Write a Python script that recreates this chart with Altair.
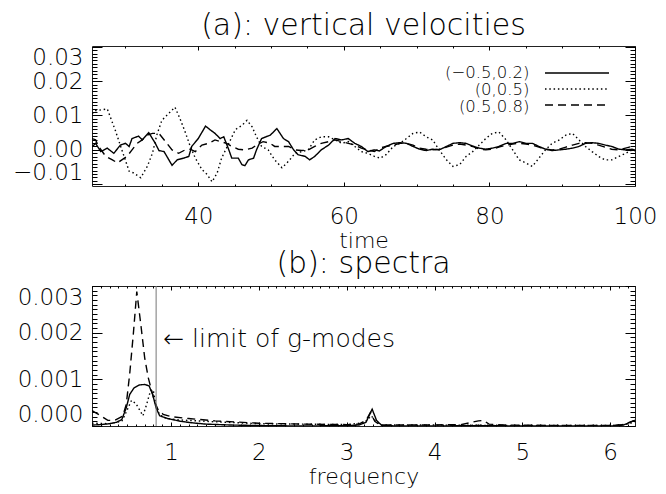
import altair as alt
import pandas as pd
import numpy as np

FONT = "DejaVu Sans"
LW = 200
series = ["(\u22120.5,0.2)", "(0,0.5)", "(0.5,0.8)"]
dashes = [[1, 0], [1.5, 2.8], [8, 5]]

# ---- panel (a): vertical velocities (values in units of 1e-3) ----
t_solid = [25.4, 25.9, 26.6, 27.5, 28.4, 29.3, 30.0, 30.5, 30.9, 31.8, 32.3, 33.2, 34.1, 34.6, 35.3,
           36.4, 37.1, 38.0, 38.7, 39.1, 40.0, 41.0, 41.6, 42.3, 43.0, 43.5, 44.2, 44.6, 45.5, 46.0,
           46.4, 46.9, 47.6, 48.0, 48.7, 49.9, 50.8, 51.7, 52.4, 53.1, 53.7, 54.7, 55.3, 56.0, 56.9,
           57.9, 58.8, 59.7, 60.6, 61.5, 62.4, 63.3, 64.2, 64.9, 65.8, 66.8, 67.7, 68.6, 69.5, 70.4,
           71.3, 72.2, 73.1, 74.1, 75.0, 75.9, 76.8, 77.7, 78.6, 79.5, 80.4, 81.3, 82.3, 83.2, 84.1,
           85.0, 85.9, 86.8, 87.7, 88.6, 89.6, 90.5, 91.4, 92.3, 93.2, 94.1, 95.0, 95.9, 96.8, 97.8,
           98.7, 99.6, 100.0]
v_solid = [0.9, 1.9, -0.5, 0.5, -1.0, 1.4, 1.9, 1.0, 3.3, 4.0, 2.9, 5.0, 1.9, -0.2, -0.5,
           -4.5, -2.9, -2.4, -1.9, 1.0, 3.3, 6.9, 5.9, 4.8, 3.3, 3.8, 0.0, -2.4, -2.4, -4.3,
           -4.6, -2.9, -2.4, 0.0, 3.3, 4.3, 6.2, 3.3, 2.4, 0.0, -1.4, -1.9, -2.9, -1.9, 0.0,
           1.4, 3.3, 2.9, 3.3, 1.9, 1.0, -0.5, 0.0, -0.3, 1.0, 1.9, 2.1, 1.9, 1.0, 0.2,
           -0.2, 0.2, 0.0, 1.0, 1.9, 2.1, 1.9, 1.1, 0.5, 0.2, 0.5, 1.0, 1.9, 1.9, 2.4,
           1.9, 1.9, 1.0, 0.2, -0.2, 0.0, 0.2, 0.5, 1.0, 1.9, 2.1, 1.9, 1.4, 1.0, 0.2,
           0.0, 0.2, 0.0]

t_dot = [25.4, 25.9, 27.5, 28.6, 29.5, 30.5, 31.1, 32.1, 33.0, 33.7, 34.3, 35.0, 35.9, 36.8, 37.5,
         38.2, 38.9, 39.6, 40.5, 41.2, 41.9, 42.6, 43.2, 44.2, 45.1, 46.0, 46.7, 47.4, 48.0, 48.7,
         49.6, 50.5, 51.5, 52.4, 53.3, 54.2, 55.1, 56.0, 56.9, 57.9, 58.8, 59.7, 60.6, 61.5, 62.4,
         63.3, 64.2, 65.0, 65.8, 66.8, 67.7, 68.6, 69.5, 70.4, 71.3, 72.2, 73.1, 74.1, 75.0, 75.9,
         76.8, 77.7, 78.6, 79.5, 80.4, 81.3, 82.3, 83.2, 84.1, 85.0, 85.9, 86.8, 87.7, 88.6, 89.6,
         90.5, 91.4, 92.3, 93.2, 94.1, 95.0, 95.9, 96.8, 97.8, 98.7, 99.6, 100.0]
v_dot = [10.5, 11.4, 11.9, 5.7, 0.0, -6.2, -6.7, -8.1, -4.8, -1.0, 4.3, 8.6, 10.5, 12.4, 9.0,
         5.2, 1.0, -2.4, -5.7, -7.1, -9.3, -6.7, -2.4, 1.9, 5.9, 7.1, 8.6, 6.7, 3.8, 1.0,
         0.0, -2.9, -5.2, -3.3, -1.0, -0.5, 0.0, 2.9, 3.8, 3.8, 2.9, 1.9, 2.4, 1.0, -0.5,
         -1.0, -1.9, -2.4, -1.4, 1.0, 1.9, 3.3, 4.8, 5.2, 3.8, 2.9, 0.0, -2.9, -4.8, -4.3,
         -1.9, -0.5, 1.4, 3.3, 4.8, 5.2, 2.9, 0.0, -2.9, -3.8, -4.8, -2.4, 0.0, 1.9, 2.9,
         4.3, 4.8, 2.9, 1.0, -0.5, -1.9, -2.9, -2.9, -1.9, -1.0, 0.0, -0.3]

t_dash = [25.4, 25.9, 26.3, 27.3, 28.2, 28.9, 29.5, 30.2, 30.9, 31.6, 32.3, 33.0, 33.7, 34.6, 35.5,
          36.4, 37.3, 38.2, 38.9, 39.6, 40.5, 41.4, 42.3, 43.0, 43.9, 44.6, 45.5, 46.4, 47.4, 48.0,
          48.9, 49.9, 50.5, 51.5, 52.4, 53.3, 54.2, 55.1, 56.0, 56.9, 57.9, 58.8, 59.7, 60.6, 61.5,
          62.4, 63.3, 64.2, 64.9, 65.8, 66.8, 67.7, 68.6, 69.5, 70.4, 71.3, 72.2, 73.1, 74.1, 75.0,
          75.9, 76.8, 77.7, 78.6, 79.5, 80.4, 81.3, 82.3, 83.2, 84.1, 85.0, 85.9, 86.8, 87.7, 88.6,
          89.6, 90.5, 91.4, 92.3, 93.2, 94.1, 95.0, 95.9, 96.8, 97.8, 98.7, 99.6, 100.0]
v_dash = [3.3, 2.9, 1.0, -1.9, -2.9, -3.8, -2.9, -1.9, 0.0, 1.9, 2.9, 4.3, 4.8, 4.8, 2.4,
          0.0, -1.0, 0.0, 0.2, -0.5, 1.4, 1.9, 2.9, 2.4, 1.9, 1.0, 0.2, 0.0, 0.5, 1.4,
          2.4, 1.9, 1.0, 1.0, 1.0, 0.0, -0.2, 0.0, 1.0, 1.9, 2.4, 2.9, 2.4, 1.9, 1.4,
          0.5, 0.0, -0.5, 0.5, 1.0, 1.4, 1.9, 1.9, 1.4, 0.5, 0.2, 0.0, 0.2, 0.8, 1.4,
          1.7, 1.4, 1.0, 0.2, 0.0, 0.2, 0.8, 1.4, 1.7, 1.9, 1.7, 1.4, 0.8, 0.2, 0.0,
          0.2, 0.8, 1.4, 1.9, 2.1, 1.9, 1.4, 0.8, 0.2, 0.0, 0.5, 1.0, 1.1]

# ---- panel (b): spectra (values in units of 1e-3) ----
f_solid = [0.10, 0.20, 0.30, 0.38, 0.44, 0.49, 0.53, 0.58, 0.64, 0.70, 0.75, 0.79, 0.83, 0.87, 0.96,
           1.11, 1.23, 1.40, 1.70, 2.00, 2.50, 3.00, 3.14, 3.22, 3.29, 3.34, 3.40, 3.60, 4.00, 4.50,
           5.00, 5.50, 6.00, 6.15, 6.28]
s_solid = [0.02, 0.03, 0.05, 0.08, 0.14, 0.39, 0.68, 0.82, 0.88, 0.89, 0.86, 0.68, 0.39, 0.22, 0.16,
           0.10, 0.07, 0.04, 0.02, 0.01, 0.00, 0.01, 0.02, 0.08, 0.36, 0.12, 0.01, 0.00, 0.00, 0.01,
           0.00, 0.00, 0.00, 0.02, 0.12]
f_dash = [0.10, 0.20, 0.28, 0.36, 0.45, 0.49, 0.53, 0.57, 0.61, 0.66, 0.70, 0.74, 0.78, 0.81, 0.85,
          0.91, 1.00, 1.20, 1.50, 2.00, 2.50, 3.00, 3.14, 3.22, 3.27, 3.32, 3.38, 3.80, 4.30, 4.40,
          4.50, 4.56, 4.62, 4.80, 5.50, 6.00, 6.15, 6.28]
s_dash = [0.33, 0.22, 0.12, 0.12, 0.21, 0.46, 1.13, 1.96, 2.88, 2.11, 1.46, 1.04, 0.75, 0.54, 0.36,
          0.25, 0.20, 0.16, 0.11, 0.06, 0.04, 0.03, 0.04, 0.12, 0.29, 0.10, 0.02, 0.02, 0.03, 0.07,
          0.11, 0.12, 0.04, 0.02, 0.01, 0.01, 0.03, 0.12]
f_dot = [0.10, 0.30, 0.44, 0.49, 0.55, 0.60, 0.64, 0.68, 0.72, 0.77, 0.80, 0.83, 0.87, 0.95, 1.10,
         1.50, 2.00, 2.50, 3.00, 3.20, 3.28, 3.34, 3.40, 4.00, 5.00, 6.00, 6.20, 6.28]
s_dot = [0.06, 0.05, 0.10, 0.30, 0.55, 0.48, 0.35, 0.22, 0.45, 0.78, 0.74, 0.42, 0.24, 0.16, 0.13,
         0.09, 0.05, 0.04, 0.03, 0.07, 0.22, 0.08, 0.02, 0.02, 0.01, 0.01, 0.04, 0.09]

gmode_limit = [0.83]
note_text = ["\u2190 limit of g-modes"]
note_f = [0.91]
note_v = [1.86]

# tick positions
xa_major = [40, 60, 80, 100]
xa_minor = [30, 35, 45, 50, 55, 65, 70, 75, 85, 90, 95]
ya_major = [-0.01, 0.0, 0.01, 0.02, 0.03]
ya_minor = [round(-0.01 + 0.001 * i, 4) for i in range(41)]
xb_major = [1, 2, 3, 4, 5, 6]
xb_minor = [round(0.1 * i, 2) for i in range(1, 63)]
yb_major = [0.0, 0.001, 0.002, 0.003]
yb_minor = [round(0.0001 * i, 5) for i in range(31)]


def long(ts, vs_list):
    rows = []
    for name, t, v in zip(series, ts, vs_list):
        for a, b in zip(t, v):
            rows.append({"x": a, "v": b / 1000.0, "s": name, "lab": name})
    return pd.DataFrame(rows)


df_a = long([t_solid, t_dot, t_dash], [v_solid, v_dot, v_dash])
df_b = long([f_solid, f_dot, f_dash], [s_solid, s_dot, s_dash])

W, H = 543, 140


def noax(orient, values, offset, size):
    return alt.Axis(orient=orient, values=values, offset=offset, tickSize=size, labels=False,
                    domain=False, grid=False, title=None, minExtent=0, maxExtent=0,
                    tickColor="black", tickWidth=1)


def panel(df, xdom, ydom, xmaj, xmin, ymaj, ymin, yfmt, xtitle, title, with_legend, xlabpad,
          xtitlepad, toff):
    xs = alt.Scale(domain=xdom, nice=False, zero=False)
    ys = alt.Scale(domain=ydom, nice=False, zero=False)
    if with_legend:
        leg_sym = alt.Legend(orient="none", legendX=452, legendY=19, title=None, symbolType="stroke",
                             symbolSize=4096, symbolStrokeWidth=1.5, symbolStrokeColor="black",
                             labelExpr="' '", labelOpacity=0, labelFontSize=16, clipHeight=16,
                             padding=0, rowPadding=0)
        leg_lab = alt.Legend(orient="none", legendX=417, legendY=19, title=None, symbolOpacity=0,
                             symbolSize=1, labelFontSize=16.5, labelFont=FONT, labelColor="black",
                             labelFontWeight=LW, labelAlign="right", clipHeight=16, padding=0,
                             rowPadding=0)
    else:
        leg_sym = None
        leg_lab = None
    dash = alt.StrokeDash("s:N", scale=alt.Scale(domain=series, range=dashes), legend=leg_sym)
    col = alt.Color("lab:N", sort=series, scale=alt.Scale(range=["black", "black", "black"]),
                    legend=leg_lab)
    main = alt.Chart(df).mark_line(strokeWidth=1.4, clip=True).encode(
        x=alt.X("x:Q", scale=xs, axis=alt.Axis(orient="bottom", values=xmaj, format="d", offset=-4,
                tickSize=4, labelPadding=xlabpad, labelFlush=False, labelOverlap=False,
                domain=False, grid=False, title=xtitle, titlePadding=xtitlepad, tickColor="black")),
        y=alt.Y("v:Q", scale=ys, axis=alt.Axis(orient="left", values=ymaj, format=yfmt, offset=-10,
                tickSize=10, labelPadding=9, labelFlush=5, labelOverlap=False, domain=False,
                grid=False, title=None, minExtent=93, tickColor="black")),
        strokeDash=dash,
        color=col,
        order=alt.Order("x:Q"),
    )
    inv = alt.Chart(df).mark_line(strokeOpacity=0, clip=True)
    l2 = inv.encode(x=alt.X("x:Q", scale=xs, axis=noax("bottom", xmin, -2, 2)),
                    y=alt.Y("v:Q", scale=ys, axis=noax("left", ymin, -5, 5)))
    l3 = inv.encode(x=alt.X("x:Q", scale=xs, axis=noax("top", xmaj, -4, 4)),
                    y=alt.Y("v:Q", scale=ys, axis=noax("right", ymaj, -10, 10)))
    l4 = inv.encode(x=alt.X("x:Q", scale=xs, axis=noax("top", xmin, -2, 2)),
                    y=alt.Y("v:Q", scale=ys, axis=noax("right", ymin, -5, 5)))
    ttl = alt.TitleParams(title, fontSize=30, font=FONT, fontWeight=LW, color="black",
                          anchor="middle", frame="group", baseline="bottom", offset=toff)
    return [main, l2, l3, l4], xs, ys, ttl


la, xsa, ysa, ta = panel(df_a, [25.4, 100], [-0.0105, 0.0302], xa_major, xa_minor, ya_major, ya_minor,
                         ".2f", "time", "(a): vertical velocities", True, 19, 2, -25)
top = alt.layer(*la).properties(width=W, height=H, title=ta).resolve_axis(
    x="independent", y="independent")

lb, xsb, ysb, tb = panel(df_b, [0.1, 6.283], [0.0, 0.003], xb_major, xb_minor, yb_major, yb_minor,
                         ".3f", "frequency", "(b): spectra", False, 15, 2, -23)

rule_df = pd.DataFrame({"x": gmode_limit})
rule = alt.Chart(rule_df).mark_rule(color="#777777", strokeWidth=1).encode(
    x=alt.X("x:Q", scale=xsb, axis=None))
note_df = pd.DataFrame({"x": note_f, "v": [n / 1000.0 for n in note_v], "label": note_text})
note = alt.Chart(note_df).mark_text(align="left", baseline="middle", fontSize=25, font=FONT,
                                    fontWeight=LW, color="black").encode(
    x=alt.X("x:Q", scale=xsb, axis=None), y=alt.Y("v:Q", scale=ysb, axis=None), text="label:N")

bottom = alt.layer(lb[0], rule, note, lb[1], lb[2], lb[3]).properties(
    width=W, height=H, title=tb).resolve_axis(x="independent", y="independent")

chart = alt.vconcat(top, bottom, spacing=-4).resolve_scale(
    x="independent", y="independent", strokeDash="independent", color="independent").resolve_legend(
    strokeDash="independent", color="independent").properties(
    padding={"top": 2, "left": 0, "right": 0, "bottom": 0}, background="white").configure_view(
    stroke="#222222", strokeWidth=1).configure_axis(
    labelFont=FONT, labelFontSize=23, labelFontWeight=LW, labelColor="black", titleFont=FONT,
    titleFontSize=22, titleFontWeight=LW, titleColor="black").configure_legend(
    labelFont=FONT, labelColor="black")

chart.save("out.html", embed_options={"renderer": "svg", "actions": False})
